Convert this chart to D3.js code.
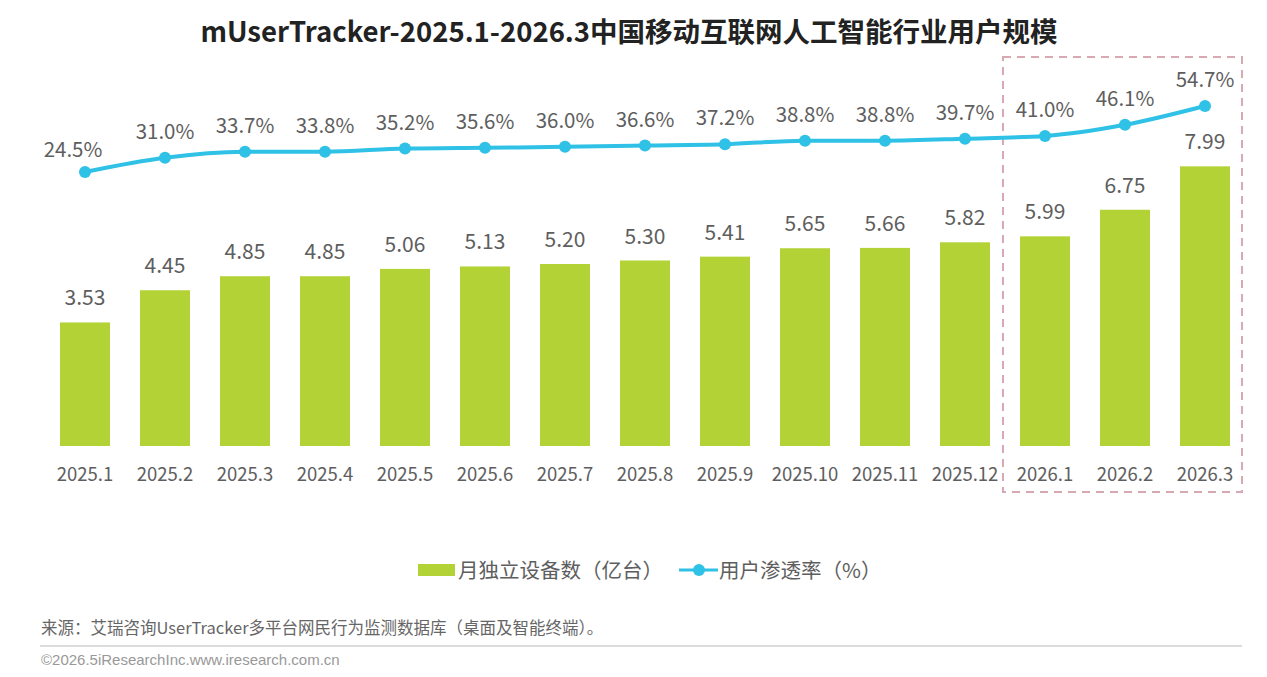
<!DOCTYPE html>
<html>
<head>
<meta charset="utf-8">
<script src="https://cdn.jsdelivr.net/npm/d3@7"></script>
<style>
    html, body { margin: 0; padding: 0; background: #fff; }
    svg text { font-family: "Noto Sans CJK SC", "Noto Sans", sans-serif; }
</style>
</head>
<body>
<div id="chart"></div>
<script>
var months = ['2025.1', '2025.2', '2025.3', '2025.4', '2025.5', '2025.6', '2025.7', '2025.8',
    '2025.9', '2025.10', '2025.11', '2025.12', '2026.1', '2026.2', '2026.3'];
var devices = [3.53, 4.45, 4.85, 4.85, 5.06, 5.13, 5.20, 5.30, 5.41, 5.65, 5.66, 5.82, 5.99, 6.75, 7.99];
var penetration = [24.5, 31.0, 33.7, 33.8, 35.2, 35.6, 36.0, 36.6, 37.2, 38.8, 38.8, 39.7, 41.0, 46.1, 54.7];
var forecastMonths = ['2026.1', '2026.2', '2026.3'];

const width = 1267;
const height = 677;
const barColor = '#b2d235';
const lineColor = '#2fc1e6';
const textColor = '#5e5e5e';

var svg = d3.select('#chart')
    .append('svg')
    .attr('width', width)
    .attr('height', height);

// 标题
svg.append('text')
    .text('mUserTracker-2025.1-2026.3中国移动互联网人工智能行业用户规模')
    .attr('x', 629)
    .attr('y', 42)
    .attr('text-anchor', 'middle')
    .style('font-size', '27.5px')
    .style('font-weight', 'bold')
    .attr('fill', '#222');

const xScale = d3.scaleBand()
    .domain(months)
    .range([45, 1245])
    .paddingInner(0.375)
    .paddingOuter(0.1875);

const yBar = d3.scaleLinear()
    .domain([0, 8])
    .range([446, 166]);

const yLine = d3.scaleLinear()
    .domain([0, 100])
    .range([225.5, 7]);

// 虚线框（预测）
var f0 = xScale(forecastMonths[0]) - 17;
var f1 = xScale(forecastMonths[forecastMonths.length - 1]) + xScale.bandwidth() + 12;
svg.append('rect')
    .attr('x', f0)
    .attr('y', 57)
    .attr('width', f1 - f0)
    .attr('height', 435)
    .attr('fill', 'none')
    .attr('stroke', '#d6a9b3')
    .attr('stroke-width', 2)
    .attr('stroke-dasharray', '8,6');

// 柱子
svg.selectAll('.bar')
    .data(devices)
    .enter()
    .append('rect')
    .attr('class', 'bar')
    .attr('x', (d, i) => xScale(months[i]))
    .attr('y', d => yBar(d))
    .attr('width', xScale.bandwidth())
    .attr('height', d => yBar(0) - yBar(d))
    .attr('fill', barColor);

svg.selectAll('.barlabel')
    .data(devices)
    .enter()
    .append('text')
    .attr('class', 'barlabel')
    .text(d => d.toFixed(2))
    .attr('x', (d, i) => xScale(months[i]) + xScale.bandwidth() / 2)
    .attr('y', d => yBar(d) - 17)
    .attr('text-anchor', 'middle')
    .style('font-size', '21px')
    .attr('fill', textColor);

// x轴
const xAxis = d3.axisBottom(xScale).tickSize(0).tickPadding(0);
const gx = svg.append('g')
    .attr('transform', 'translate(0,470)')
    .call(xAxis);
gx.select('.domain').remove();
gx.selectAll('text')
    .style('font-size', '18.5px')
    .style('font-family', '"Noto Sans CJK SC", sans-serif')
    .attr('fill', textColor)
    .attr('dy', '0.6em');

// 折线
const pathLine = d3.line()
    .curve(d3.curveMonotoneX)
    .x((d, i) => xScale(months[i]) + xScale.bandwidth() / 2)
    .y(d => yLine(d));

svg.append('path')
    .attr('d', pathLine(penetration))
    .attr('stroke', lineColor)
    .attr('stroke-width', 4)
    .attr('fill', 'none');

svg.selectAll('.dot')
    .data(penetration)
    .enter()
    .append('circle')
    .attr('class', 'dot')
    .attr('cx', (d, i) => xScale(months[i]) + xScale.bandwidth() / 2)
    .attr('cy', d => yLine(d))
    .attr('r', 6)
    .attr('fill', lineColor);

svg.selectAll('.linelabel')
    .data(penetration)
    .enter()
    .append('text')
    .attr('class', 'linelabel')
    .text(d => d.toFixed(1) + '%')
    .attr('x', (d, i) => xScale(months[i]) + xScale.bandwidth() / 2 - (i == 0 ? 12 : 0))
    .attr('y', (d, i) => yLine(d) - (i == 0 ? 15 : 19))
    .attr('text-anchor', 'middle')
    .style('font-size', '20.5px')
    .attr('fill', textColor);

// 图例
svg.append('rect')
    .attr('x', 418)
    .attr('y', 564)
    .attr('width', 37)
    .attr('height', 12)
    .attr('fill', barColor);
svg.append('text')
    .text('月独立设备数（亿台）')
    .attr('x', 458)
    .attr('y', 578)
    .style('font-size', '20.5px')
    .attr('fill', textColor);
svg.append('line')
    .attr('x1', 679)
    .attr('y1', 570)
    .attr('x2', 718)
    .attr('y2', 570)
    .attr('stroke', lineColor)
    .attr('stroke-width', 3);
svg.append('circle')
    .attr('cx', 699)
    .attr('cy', 570)
    .attr('r', 6)
    .attr('fill', lineColor);
svg.append('text')
    .text('用户渗透率（%）')
    .attr('x', 719)
    .attr('y', 578)
    .style('font-size', '20.5px')
    .attr('fill', textColor);

// 来源
svg.append('text')
    .text('来源：艾瑞咨询UserTracker多平台网民行为监测数据库（桌面及智能终端）。')
    .attr('x', 41)
    .attr('y', 634)
    .style('font-size', '16.5px')
    .attr('fill', '#666');
svg.append('line')
    .attr('x1', 40)
    .attr('y1', 646)
    .attr('x2', 1242)
    .attr('y2', 646)
    .attr('stroke', '#d0d0d0')
    .attr('stroke-width', 1.5);
svg.append('text')
    .text('©2026.5iResearchInc.www.iresearch.com.cn')
    .attr('x', 41)
    .attr('y', 665)
    .style('font-size', '15px')
    .style('font-family', '"Liberation Sans Narrow", "Liberation Sans", Arial, sans-serif')
    .attr('fill', '#999');
</script>
</body>
</html>
